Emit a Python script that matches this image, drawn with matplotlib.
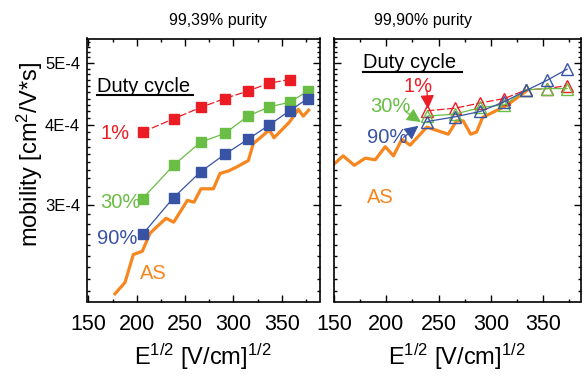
import matplotlib
matplotlib.use("Agg")
import matplotlib.pyplot as plt
import numpy as np
from matplotlib.ticker import FixedLocator, NullFormatter

plt.rcParams["font.family"] = ["Liberation Sans", "DejaVu Sans"]
plt.rcParams["mathtext.fontset"] = "custom"
plt.rcParams["mathtext.rm"] = "Liberation Sans"
plt.rcParams["mathtext.it"] = "Liberation Sans"

RED = "#ec1c24"
GREEN = "#6abd45"
BLUE = "#3953a4"
ORANGE = "#f7861f"

# --- 99,39% purity ---
x_sq = [206, 238, 266, 291, 315, 337, 358, 377]
y_1pct = [3.90e-4, 4.09e-4, 4.26e-4, 4.40e-4, 4.52e-4, 4.65e-4, 4.71e-4]
y_30pct = [3.07e-4, 3.46e-4, 3.76e-4, 3.88e-4, 4.13e-4, 4.27e-4, 4.34e-4, 4.52e-4]
y_90pct = [2.70e-4, 3.08e-4, 3.38e-4, 3.60e-4, 3.80e-4, 4.00e-4, 4.21e-4, 4.40e-4]

x_as_left = [177.5, 187.8, 196.4, 205.7, 213.7, 230.2, 238.2, 252.3, 259.2, 266.4,
             279.2, 286.1, 294.7, 303.4, 315.4, 320.5, 337.1, 341.9, 357.8, 367.1,
             372.2, 377.8]
y_as_left = [2.18e-4, 2.27e-4, 2.51e-4, 2.54e-4, 2.71e-4, 2.86e-4, 2.82e-4, 3.05e-4,
             3.03e-4, 3.18e-4, 3.18e-4, 3.36e-4, 3.39e-4, 3.44e-4, 3.52e-4, 3.74e-4,
             3.93e-4, 3.82e-4, 4.04e-4, 4.23e-4, 4.13e-4, 4.22e-4]

# --- 99,90% purity ---
x_tri = [239, 266, 290, 313, 334, 354, 373]
y_tri_1 = [4.21e-4, 4.25e-4, 4.33e-4, 4.40e-4, 4.54e-4, 4.56e-4, 4.61e-4]
y_tri_30 = [4.13e-4, 4.16e-4, 4.26e-4, 4.30e-4, 4.54e-4, 4.56e-4, 4.56e-4]
y_tri_90 = [4.05e-4, 4.12e-4, 4.20e-4, 4.35e-4, 4.53e-4, 4.70e-4, 4.89e-4]

x_as_right = [150.4, 158.7, 169.4, 179.9, 189.5, 199.0, 206.9, 214.9, 222.8, 238.8,
              259.3, 267.3, 273.6, 280.7, 286.4, 292.1, 315.0, 335.6]
y_as_right = [3.48e-4, 3.58e-4, 3.46e-4, 3.55e-4, 3.53e-4, 3.70e-4, 3.58e-4, 3.80e-4,
              3.72e-4, 3.97e-4, 3.87e-4, 4.06e-4, 4.06e-4, 3.87e-4, 3.90e-4, 4.11e-4,
              4.29e-4, 4.54e-4]

y_ticks = [3e-4, 4e-4, 5e-4]
y_ticklabels = ["3E-4", "4E-4", "5E-4"]
x_ticks = [150, 200, 250, 300, 350]

W, H = 586, 383
fig = plt.figure(figsize=(W / 100, H / 100), dpi=100)

def axes_px(x0, x1, top, bottom):
    return fig.add_axes([x0 / W, (H - bottom) / H, (x1 - x0) / W, (bottom - top) / H])

ax1 = axes_px(87, 319.5, 38.5, 301.5)
ax2 = axes_px(334, 580.7, 38.5, 301.5)

for ax in (ax1, ax2):
    ax.set_yscale("log")
    ax.set_ylim(2.12e-4, 5.46e-4)
    ax.yaxis.set_major_locator(FixedLocator(y_ticks))
    ax.yaxis.set_minor_locator(FixedLocator(np.arange(22, 55) * 1e-5))
    ax.yaxis.set_minor_formatter(NullFormatter())
    ax.xaxis.set_major_locator(FixedLocator(x_ticks))
    ax.xaxis.set_minor_locator(FixedLocator(np.arange(175, 400, 50)))
    ax.tick_params(which="both", direction="in", top=True, right=True, width=1.0)
    ax.tick_params(which="major", length=5)
    ax.tick_params(which="minor", length=2.5)
    ax.tick_params(axis="x", labelsize=15.5, pad=9)
    for s in ax.spines.values():
        s.set_linewidth(1.2)

ax1.set_xlim(148.5, 389)
ax2.set_xlim(150, 386)
ax1.set_yticklabels(y_ticklabels)
ax1.tick_params(axis="y", labelsize=12, pad=5)
ax2.set_yticklabels([])

# left panel
ax1.plot(x_as_left, y_as_left, color=ORANGE, lw=2.3, zorder=2)
ax1.plot(x_sq[:7], y_1pct, color=RED, lw=0.9, dashes=(6, 2), marker="s", ms=6.5, mec=RED, zorder=3)
ax1.plot(x_sq, y_30pct, color=GREEN, lw=0.9, marker="s", ms=6.5, zorder=3)
ax1.plot(x_sq, y_90pct, color=BLUE, lw=0.9, marker="s", ms=6.5, zorder=3)

# right panel
ax2.plot(x_as_right, y_as_right, color=ORANGE, lw=2.3, zorder=2)
ax2.plot(x_tri, y_tri_1, color=RED, lw=0.9, dashes=(6, 2), marker="^", ms=8.5, mfc="none", mec=RED, mew=1.0, zorder=3)
ax2.plot(x_tri, y_tri_30, color=GREEN, lw=0.9, marker="^", ms=8.5, mfc="none", mec=GREEN, mew=1.0, zorder=3)
ax2.plot(x_tri, y_tri_90, color=BLUE, lw=0.9, marker="^", ms=8.5, mfc="none", mec=BLUE, mew=1.0, zorder=3)

def label(ax, fx, fy, s, color):
    ax.text(fx, fy, s, color=color, fontsize=14.5, transform=ax.transAxes, ha="left", va="center")

# annotations left
label(ax1, 0.043, 0.816, "Duty cycle", "black")
ax1.plot([0.043, 0.456], [0.785, 0.785], color="black", lw=1.5, transform=ax1.transAxes, clip_on=False)
label(ax1, 0.056, 0.637, "1%", RED)
label(ax1, 0.056, 0.378, "30%", GREEN)
label(ax1, 0.043, 0.238, "90%", BLUE)
label(ax1, 0.228, 0.108, "AS", ORANGE)

# annotations right
label(ax2, 0.118, 0.907, "Duty cycle", "black")
ax2.plot([0.118, 0.519], [0.873, 0.873], color="black", lw=1.5, transform=ax2.transAxes, clip_on=False)
label(ax2, 0.28, 0.816, "1%", RED)
label(ax2, 0.146, 0.743, "30%", GREEN)
label(ax2, 0.134, 0.622, "90%", BLUE)
label(ax2, 0.134, 0.394, "AS", ORANGE)

for (tx, ty, hx, hy, c) in [(0.377, 0.800, 0.381, 0.732, RED),
                            (0.290, 0.722, 0.352, 0.682, GREEN),
                            (0.282, 0.624, 0.342, 0.668, BLUE)]:
    ax2.annotate("", xy=(hx, hy), xytext=(tx, ty), xycoords="axes fraction",
                 arrowprops=dict(arrowstyle="-|>,head_length=0.7,head_width=0.35",
                                 color=c, lw=0.9, shrinkA=0, shrinkB=0, mutation_scale=12))

fig.text(218 / W, 1 - 20 / H, "99,39% purity", fontsize=11.5, ha="center", va="center")
fig.text(423 / W, 1 - 20 / H, "99,90% purity", fontsize=11.5, ha="center", va="center")
fig.text(30 / W, 1 - 155 / H, "mobility [cm$^2$/V*s]", fontsize=17, rotation=90, ha="center", va="center")
fig.text(203 / W, 1 - 357 / H, "E$^{1/2}$ [V/cm]$^{1/2}$", fontsize=17, ha="center", va="center")
fig.text(457 / W, 1 - 357 / H, "E$^{1/2}$ [V/cm]$^{1/2}$", fontsize=17, ha="center", va="center")

fig.savefig("out.png", dpi=100)
